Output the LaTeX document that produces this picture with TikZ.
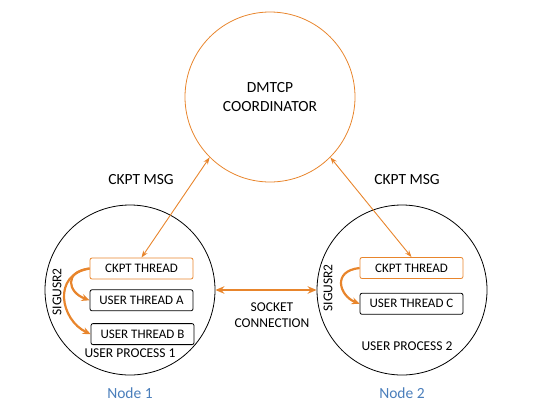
\documentclass[tikz,border=0pt]{standalone}
\usepackage{fontspec}
\setmainfont{Carlito}
\usetikzlibrary{arrows.meta,positioning}
\definecolor{ckorange}{HTML}{E8852C}
\definecolor{nodeblue}{HTML}{4A7EBB}

\begin{document}
\begin{tikzpicture}[x=1pt,y=-1pt,
    proc/.style={draw, circle, minimum size=170pt, inner sep=0pt, line width=0.8pt},
    thr/.style={draw, rounded corners=2pt, minimum width=103pt, minimum height=21pt, inner sep=0pt, line width=0.8pt, font=\fontsize{13}{15}\selectfont},
    lbl/.style={font=\fontsize{13.5}{15.5}\selectfont, inner sep=0pt},
    big/.style={font=\fontsize{15.5}{19}\selectfont, align=center, inner sep=0pt},
    msg/.style={ckorange, line width=0.9pt, {Stealth[length=7pt,width=5pt]}-{Stealth[length=7pt,width=5pt]}},
    sig/.style={ckorange, line width=2.2pt, -{Stealth[length=8pt,width=7pt]}},
    sock/.style={ckorange, line width=2pt, {Stealth[length=9pt,width=7.5pt]}-{Stealth[length=9pt,width=7.5pt]}}]
    \useasboundingbox (0,0) rectangle (537,407);

    % Coordinator
    \node[proc, draw=ckorange, big] (coord) at (270,97) {DMTCP\\COORDINATOR};

    % Node 1
    \node[proc] (p1) at (130,290) {};
    \node[thr, draw=ckorange] (ck1) at (141.5,268.5) {CKPT THREAD};
    \node[thr, below=10pt of ck1] (ua) {USER THREAD A};
    \node[thr, below=12pt of ua, xshift=1pt] (ub) {USER THREAD B};
    \node[lbl, rotate=90] (sg1) at (57,292) {SIGUSR2};
    \node[lbl] (up1) at (130,353) {USER PROCESS 1};
    \node[big, text=nodeblue] (n1) at (130,393) {Node 1};

    % Node 2
    \node[proc] (p2) at (402,290) {};
    \node[thr, draw=ckorange] (ck2) at (411.5,268) {CKPT THREAD};
    \node[thr, below=14pt of ck2] (uc) {USER THREAD C};
    \node[lbl, rotate=90] (sg2) at (328,288) {SIGUSR2};
    \node[lbl] (up2) at (407,346) {USER PROCESS 2};
    \node[big, text=nodeblue] (n2) at (402,393) {Node 2};

    % messages
    \node[big] (m1) at (141,180) {CKPT MSG};
    \node[big] (m2) at (407,180) {CKPT MSG};
    \draw[msg] (coord.225) -- (ck1.north);
    \draw[msg] (coord.315) -- (ck2.north);

    % socket
    \draw[sock] (p1.east) -- (p2.west);
    \node[lbl, align=center] (sk) at (272,315) {SOCKET\\CONNECTION};

    % signals
    \draw[sig] (ck1.west) .. controls +(-26,3) and +(-22,-8) .. (ua.west);
    \draw[sig] (ck1.west) .. controls +(-38,6) and +(-30,-14) .. (ub.west);
    \draw[sig] (ck2.west) .. controls +(-28,3) and +(-20,-8) .. (uc.west);
\end{tikzpicture}
\end{document}
